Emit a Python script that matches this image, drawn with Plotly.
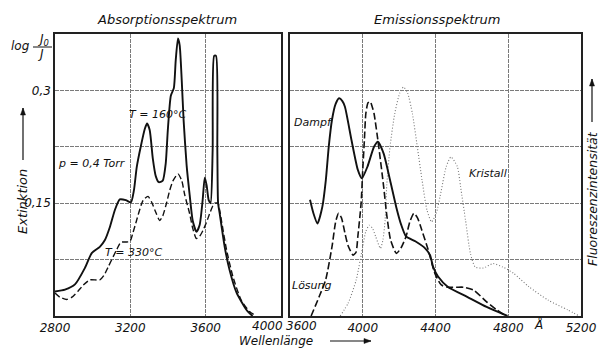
import plotly.graph_objects as go

W, H = 604, 348

# ---------------- Data ----------------
# Absorption spectrum, T = 160 °C (solid), wavelength in Å, log(J0/J)
abs160_x = [2800, 2853, 2906, 2959, 2996, 3038, 3065, 3091, 3118, 3144, 3176, 3203, 3219,
            3234, 3256, 3277, 3289, 3303, 3319, 3335, 3351, 3372, 3388, 3399, 3415, 3431,
            3441, 3453, 3462, 3473, 3483, 3499, 3515, 3531, 3551, 3568, 3584, 3595, 3605,
            3616, 3626, 3637, 3645, 3655, 3662, 3666, 3674, 3701, 3727, 3764, 3817, 3849]
abs160_y = [0.0325, 0.035, 0.042, 0.064, 0.084, 0.092, 0.101, 0.118, 0.141, 0.155, 0.154,
            0.151, 0.167, 0.198, 0.226, 0.249, 0.256, 0.247, 0.21, 0.186, 0.178, 0.180,
            0.203, 0.247, 0.293, 0.303, 0.340, 0.369, 0.36, 0.313, 0.26, 0.20, 0.161, 0.127,
            0.112, 0.121, 0.154, 0.184, 0.174, 0.154, 0.150, 0.22, 0.346, 0.346, 0.22, 0.150,
            0.137, 0.092, 0.061, 0.031, 0.008, 0.0]

# Absorption spectrum, T = 330 °C (dashed)
abs330_x = [2800, 2826, 2862, 2890, 2922, 2950, 2985, 3038, 3060, 3082, 3127, 3150, 3197,
            3213, 3233, 3268, 3294, 3314, 3330, 3356, 3372, 3392, 3409, 3427, 3453, 3473,
            3489, 3515, 3531, 3551, 3568, 3586, 3605, 3621, 3637, 3648, 3666, 3674, 3685,
            3711, 3745, 3789, 3833, 3869]
abs330_y = [0.0305, 0.025, 0.022, 0.025, 0.033, 0.041, 0.048, 0.048, 0.054, 0.065, 0.088,
            0.098, 0.099, 0.110, 0.127, 0.154, 0.159, 0.151, 0.141, 0.127, 0.133, 0.150,
            0.167, 0.180, 0.189, 0.180, 0.161, 0.136, 0.117, 0.103, 0.106, 0.114, 0.125,
            0.136, 0.146, 0.150, 0.150, 0.141, 0.125, 0.088, 0.052, 0.021, 0.006, 0.0]

# Emission spectrum, vapour "Dampf" (solid), relative intensity
dampf_x = [3710, 3728, 3751, 3778, 3797, 3813, 3831, 3851, 3870, 3888, 3902, 3938, 3973,
           3995, 4026, 4062, 4083, 4115, 4150, 4185, 4211, 4238, 4291, 4343, 4370, 4387,
           4414, 4467, 4574, 4681, 4796]
dampf_y = [2.06, 1.83, 1.64, 1.94, 2.41, 3.00, 3.48, 3.76, 3.86, 3.81, 3.71, 3.12, 2.59,
           2.44, 2.65, 3.00, 3.09, 2.88, 2.41, 1.92, 1.62, 1.41, 1.32, 1.20, 1.08, 0.87,
           0.70, 0.52, 0.34, 0.16, 0.0]

# Emission spectrum, solution "Lösung" (dashed)
loesung_x = [3716, 3760, 3796, 3831, 3851, 3867, 3883, 3902, 3920, 3947, 3963, 3973, 3991,
             4000, 4009, 4017, 4029, 4041, 4051, 4062, 4088, 4115, 4132, 4153, 4185, 4211,
             4238, 4259, 4281, 4301, 4325, 4360, 4396, 4432, 4467, 4514, 4556, 4610, 4681,
             4732, 4787]
loesung_y = [0.0, 0.34, 0.64, 1.23, 1.67, 1.82, 1.74, 1.47, 1.24, 1.08, 1.13, 1.41, 2.00,
             2.59, 3.12, 3.59, 3.78, 3.80, 3.72, 3.59, 3.00, 2.29, 1.79, 1.35, 1.11, 1.21,
             1.41, 1.67, 1.82, 1.74, 1.52, 1.17, 0.76, 0.55, 0.51, 0.51, 0.51, 0.46, 0.25,
             0.12, 0.0]

# Emission spectrum, crystal "Kristall" (dotted)
kristall_x = [3876, 3920, 3964, 4000, 4016, 4035, 4053, 4071, 4097, 4111, 4123, 4132, 4150,
              4176, 4203, 4224, 4247, 4273, 4300, 4326, 4353, 4378, 4404, 4432, 4459, 4485,
              4520, 4538, 4565, 4592, 4618, 4663, 4716, 4769, 4828, 4913, 5020, 5126, 5190]
kristall_y = [0.0, 0.23, 0.64, 1.23, 1.49, 1.61, 1.56, 1.41, 1.20, 1.35, 1.70, 2.32, 3.00,
              3.59, 3.95, 4.06, 3.95, 3.59, 3.00, 2.41, 1.88, 1.67, 1.82, 2.23, 2.65, 2.82,
              2.65, 2.29, 1.70, 1.11, 0.87, 0.85, 0.93, 0.87, 0.76, 0.52, 0.28, 0.11, 0.0]

abs_xticks = [2800, 3200, 3600, 4000]
abs_xlabels = ["2800", "3200", "3600", ""]
abs_yticks = [0, 0.075, 0.15, 0.225, 0.3, 0.375]
abs_ylabels = ["", "", "0,15", "", "0,3", ""]
em_xticks = [3600, 4000, 4400, 4800, 5200]
em_xlabels = ["", "4000", "4400", "4800", "5200"]
em_yticks = [0, 1, 2, 3, 4, 5]

# ---------------- Figure ----------------
FONT = "DejaVu Sans"
def fnt(size=12, color="#111"):
    return dict(family=FONT, size=size, color=color, style="italic")

def px(x):
    return x / W

def py(y):
    return 1 - y / H

fig = go.Figure()
fig.add_trace(go.Scatter(x=abs160_x, y=abs160_y, mode="lines", xaxis="x", yaxis="y",
                         line=dict(color="#111", width=1.9, shape="spline", smoothing=0.6)))
fig.add_trace(go.Scatter(x=abs330_x, y=abs330_y, mode="lines", xaxis="x", yaxis="y",
                         line=dict(color="#111", width=1.4, dash="6px,3px", shape="spline", smoothing=0.6)))
fig.add_trace(go.Scatter(x=kristall_x, y=kristall_y, mode="lines", xaxis="x2", yaxis="y2",
                         line=dict(color="#777", width=1.1, dash="1px,2px", shape="spline", smoothing=0.6)))
fig.add_trace(go.Scatter(x=loesung_x, y=loesung_y, mode="lines", xaxis="x2", yaxis="y2",
                         line=dict(color="#111", width=1.6, dash="7px,3px", shape="spline", smoothing=0.6)))
fig.add_trace(go.Scatter(x=dampf_x, y=dampf_y, mode="lines", xaxis="x2", yaxis="y2",
                         line=dict(color="#111", width=1.9, shape="spline", smoothing=0.6)))

ydom = [py(316), py(34)]
axis_common = dict(showline=True, linecolor="#222", linewidth=1.5, mirror=True, ticks="",
                   showgrid=True, gridcolor="#7a7a7a", gridwidth=1, griddash="4px,1px",
                   zeroline=False, tickfont=fnt(12), fixedrange=True, automargin=False)

fig.update_layout(
    width=W, height=H, margin=dict(l=0, r=0, t=0, b=0, pad=0, autoexpand=False),
    paper_bgcolor="white", plot_bgcolor="white", showlegend=False,
    xaxis=dict(domain=[px(55), px(281)], range=[2800, 4000], anchor="y",
               tickvals=abs_xticks, ticktext=abs_xlabels, **axis_common),
    yaxis=dict(domain=ydom, range=[0, 0.375], anchor="x",
               tickvals=abs_yticks, ticktext=abs_ylabels, **axis_common),
    xaxis2=dict(domain=[px(290), px(581)], range=[3600, 5200], anchor="y2",
                tickvals=em_xticks, ticktext=em_xlabels, **axis_common),
    yaxis2=dict(domain=ydom, range=[0, 5], anchor="x2",
                tickvals=em_yticks, showticklabels=False, **axis_common),
)

ann = []
def text(x, y, s, size=12, **kw):
    ann.append(dict(x=px(x), y=py(y), xref="paper", yref="paper", text=s, showarrow=False,
                    xanchor="center", yanchor="middle", font=fnt(size), **kw))

text(167, 19, "Absorptionsspektrum", 13)
text(437, 19, "Emissionsspektrum", 13)
text(20, 46, "log", 12)
text(43, 40, "J<sub>0</sub>", 12)
text(41, 54, "J", 12)
text(157, 114, "T = 160°C", 11)
text(92, 163, "p = 0,4 Torr", 11)
text(133, 252, "T = 330°C", 11)
text(313, 122, "Dampf", 11)
text(312, 285, "Lösung", 11)
text(488, 173, "Kristall", 11)
text(22, 202, "Extinktion", 13, textangle=-90)
text(592, 199, "Fluoreszenzintensität", 12.5, textangle=-90)
text(276, 341, "Wellenlänge", 12)
text(538, 324, "Å", 12)

# end tick labels shifted as in the original
ann.append(dict(x=4000, y=0, xref="x", yref="y", yshift=-10, xshift=-14, text="4000",
                xanchor="center", yanchor="middle", showarrow=False, font=fnt(12)))
ann.append(dict(x=3600, y=0, xref="x2", yref="y2", yshift=-10, xshift=11, text="3600",
                xanchor="center", yanchor="middle", showarrow=False, font=fnt(12)))
fig.update_layout(annotations=ann)

# arrows drawn as shaft + filled head (picture pixels -> paper)
def arrow(x, y, x1, y1, head=7, half=2.5):
    fig.add_shape(type="line", xref="paper", yref="paper", x0=px(x1), y0=py(y1),
                  x1=px(x), y1=py(y), line=dict(color="#111", width=1.2))
    if x == x1:  # vertical, pointing up
        pts = [(x, y), (x - half, y + head), (x + half, y + head)]
    else:        # horizontal, pointing right
        pts = [(x, y), (x - head, y - half), (x - head, y + half)]
    path = "M " + " L ".join(f"{px(a):.5f},{py(b):.5f}" for a, b in pts) + " Z"
    fig.add_shape(type="path", xref="paper", yref="paper", path=path,
                  fillcolor="#111", line=dict(color="#111", width=0.5))

arrow(23, 108, 23, 160)
arrow(592, 79, 592, 122)
arrow(371, 341, 330, 341)

# fraction bar for log J0/J
fig.add_shape(type="line", xref="paper", yref="paper", x0=px(33), x1=px(52),
              y0=py(47), y1=py(47), line=dict(color="#111", width=1))

fig.write_html("out.html")
